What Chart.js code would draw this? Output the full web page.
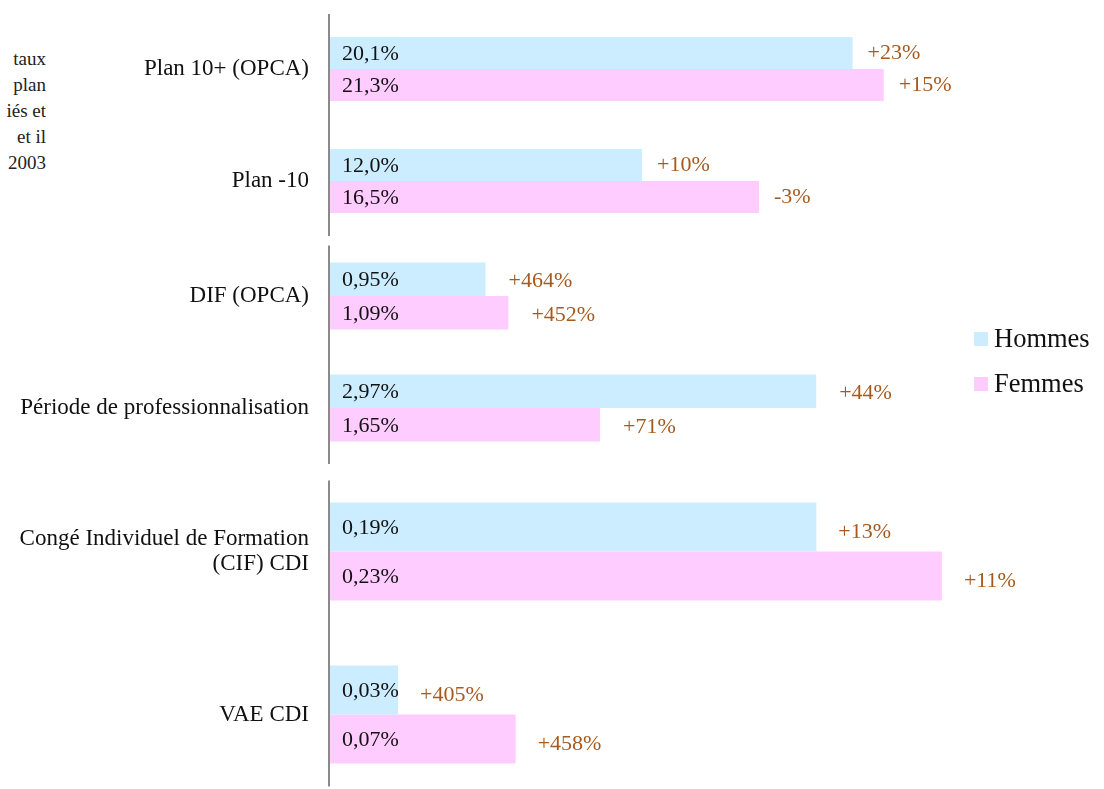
<!DOCTYPE html>
<html lang="fr">
<head>
<meta charset="utf-8">
<title>Formation : hommes / femmes</title>
<script src="https://cdn.jsdelivr.net/npm/chart.js@4.4.1/dist/chart.umd.min.js"></script>
<style>
  html, body { margin: 0; padding: 0; background: #fff; overflow: hidden; }
  body { width: 1104px; height: 789px; position: relative; font-family: "Liberation Serif", serif; }
  .bloc { position: absolute; left: 0; width: 1104px; }
  #marge { position: absolute; left: 0; top: 46px; width: 46px; text-align: right;
           font-size: 19px; line-height: 26px; color: #222; overflow: hidden; white-space: nowrap; }
  #legende { position: absolute; left: 974px; top: 324px; font-size: 26.5px; color: #111; }
  #legende div { height: 45px; line-height: 28px; white-space: nowrap; }
  #legende span { display: inline-block; width: 14px; height: 14px; margin-right: 6px; vertical-align: 1px; }
</style>
</head>
<body>
<div id="marge">taux<br>plan<br>iés et<br>et il<br>2003</div>
<div id="g0" class="bloc"><canvas></canvas></div>
<div id="g1" class="bloc"><canvas></canvas></div>
<div id="g2" class="bloc"><canvas></canvas></div>
<div id="legende"></div>
<script>
// Données
const categories = [
    "Plan 10+ (OPCA)",
    "Plan -10",
    "DIF (OPCA)",
    "Période de professionnalisation",
    ["Congé Individuel de Formation", "(CIF) CDI"],
    "VAE CDI"
];
const hommes = [20.1, 12.0, 0.95, 2.97, 0.186, 0.026];
const femmes = [21.3, 16.5, 1.09, 1.65, 0.234, 0.071];
const evolHommes = [23, 10, 464, 44, 13, 405];
const evolFemmes = [15, -3, 452, 71, 11, 458];

// trois blocs, chacun avec sa propre échelle
const groupes = [[0, 2], [2, 4], [4, 6]];
const decimales = [1, 2, 2];
const maxX = [29.77, 4.728, 0.296];

// mise en page des blocs
const hauts = [13, 240, 470];
const hauteurs = [224, 224, 326];
const epaisseur = [0.572, 0.6, 0.6];
const ecarts = [15, 23, 22];
const decalages = [0, 2, 5];
const depassement = [23, 17, 22];

const bleu = "#CCECFF";
const rose = "#FFCCFF";
const orange = "#A65A1E";

Chart.defaults.font.family = '"Liberation Serif", serif';
Chart.defaults.color = "#111";

const fmtValeur = (v, d) => v.toFixed(d).replace(".", ",") + "%";
const fmtEvol = v => (v > 0 ? "+" : "") + v + "%";

// étiquettes dans et après les barres + trait vertical
const etiquettes = {
    id: "etiquettes",
    afterDatasetsDraw(chart, args, opts) {
        const ctx = chart.ctx;
        const area = chart.chartArea;
        ctx.save();
        ctx.font = '22px "Liberation Serif"';
        ctx.textBaseline = "middle";
        ctx.textAlign = "left";
        chart.data.datasets.forEach((ds, i) => {
            chart.getDatasetMeta(i).data.forEach((bar, j) => {
                ctx.fillStyle = "#111";
                ctx.fillText(fmtValeur(ds.data[j], opts.decimales), area.left + 12, bar.y + 1);
                ctx.fillStyle = orange;
                ctx.fillText(fmtEvol(ds.evolution[j]), bar.x + opts.ecart, bar.y + opts.dy);
            });
        });
        // axe
        const premier = chart.getDatasetMeta(0).data[0];
        const dernier = chart.getDatasetMeta(1).data.at(-1);
        ctx.strokeStyle = "#8a8a8a";
        ctx.lineWidth = 2;
        ctx.beginPath();
        ctx.moveTo(area.left - 1, premier.y - premier.height / 2 - opts.depasse);
        ctx.lineTo(area.left - 1, dernier.y + dernier.height / 2 + 23);
        ctx.stroke();
        ctx.restore();
    }
};

groupes.forEach(([a, b], g) => {
    const bloc = document.getElementById("g" + g);
    bloc.style.top = hauts[g] + "px";
    bloc.style.height = hauteurs[g] + "px";

    new Chart(bloc.querySelector("canvas"), {
        type: "bar",
        data: {
            labels: categories.slice(a, b),
            datasets: [{
                label: "Hommes",
                data: hommes.slice(a, b),
                evolution: evolHommes.slice(a, b),
                backgroundColor: bleu,
            }, {
                label: "Femmes",
                data: femmes.slice(a, b),
                evolution: evolFemmes.slice(a, b),
                backgroundColor: rose,
            }],
        },
        options: {
            indexAxis: "y",
            responsive: true,
            maintainAspectRatio: false,
            animation: false,
            layout: { padding: 0 },
            categoryPercentage: epaisseur[g],
            barPercentage: 1,
            plugins: {
                legend: { display: false },
                tooltip: { enabled: false },
                etiquettes: { decimales: decimales[g], ecart: ecarts[g], dy: decalages[g], depasse: depassement[g] },
            },
            scales: {
                x: { display: false, min: 0, max: maxX[g] },
                y: {
                    afterFit: s => { s.width = 330; s.paddingTop = 0; s.paddingBottom = 0; },
                    grid: { display: false, drawTicks: false },
                    border: { display: false },
                    ticks: { padding: 21, color: "#111", font: { size: 23, lineHeight: 1.1 } },
                },
            },
        },
        plugins: [etiquettes],
    });
});

// légende
const legende = document.getElementById("legende");
[["Hommes", bleu], ["Femmes", rose]].forEach(([nom, couleur]) => {
    const ligne = document.createElement("div");
    ligne.innerHTML = '<span style="background:' + couleur + '"></span>' + nom;
    legende.appendChild(ligne);
});
</script>
</body>
</html>
